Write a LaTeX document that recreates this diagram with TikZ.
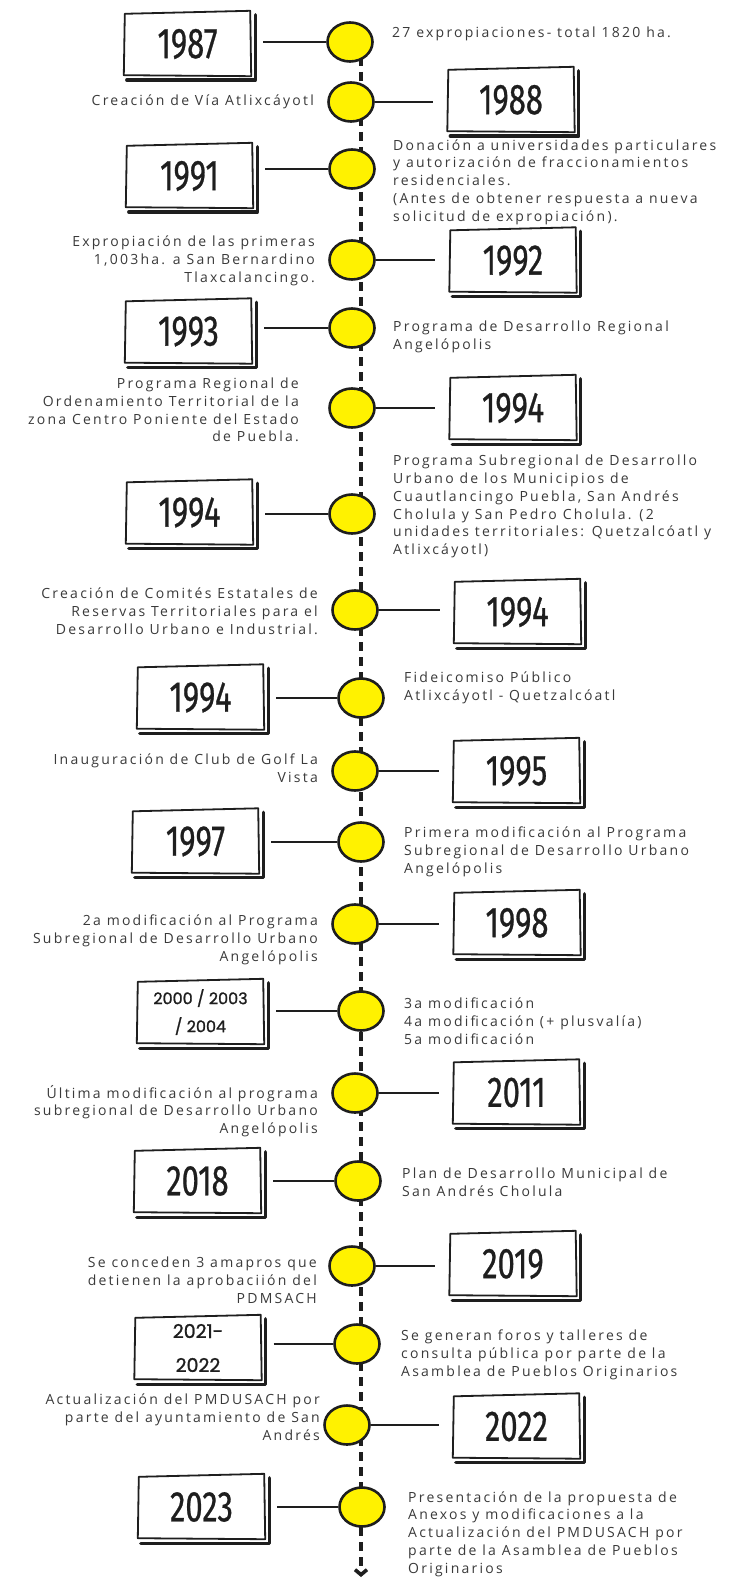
\documentclass[tikz,border=0pt]{standalone}
\usepackage{fontspec}
\setmainfont{Open Sans}[LetterSpace=16]
\newfontfamily\yearfont{Fira Sans}[FakeStretch=0.72,FakeBold=0.6]
\newfontfamily\smallyearfont{Poppins}[FakeBold=1.2]
\usetikzlibrary{shapes.geometric,arrows.meta}
\definecolor{ink}{HTML}{1E1E1E}
\definecolor{txt}{HTML}{3A3A3A}
\definecolor{dotyellow}{HTML}{FFF200}
\tikzset{
  dotnode/.style={ellipse, draw=ink, line width=2.6pt, fill=dotyellow, minimum width=45pt, minimum height=39pt, inner sep=0pt},
  conn/.style={draw=ink, line width=2.6pt},
  connL/.style={conn, shorten <=12pt},
  connR/.style={conn, shorten >=14pt},
  yearbox/.style={inner sep=0pt, minimum width=127pt, minimum height=64pt, text=ink, font=\yearfont\fontsize{43}{43}\selectfont},
  smallbox/.style={yearbox, align=center},
  rtext/.style={anchor=west, align=left, inner sep=0pt, text=txt, font=\fontsize{14}{17.8}\selectfont},
  ltext/.style={anchor=east, align=right, inner sep=0pt, text=txt, font=\fontsize{14}{17.8}\selectfont},
  dashline/.style={draw=ink, line width=3.6pt, dash pattern=on 9pt off 6pt},
  boxline/.style={draw=ink, line width=1.8pt, line join=round},
  shadowline/.style={draw=ink, line width=3.4pt, line cap=round, line join=round}
}
\newcommand\handbox[1]{%
  \draw[boxline] ([shift={(1,2)}]#1.north west) -- ([shift={(-1,-1)}]#1.north east) -- (#1.south east) -- ([shift={(0,-1)}]#1.south west) -- cycle;
  \draw[shadowline] ([shift={(4,3)}]#1.north east) -- ([shift={(4,4)}]#1.south east) -- ([shift={(3,4)}]#1.south west);
}
\begin{document}
\begin{tikzpicture}[x=1pt,y=-1pt]
\fill[white] (0,0) rectangle (729,1578);
\useasboundingbox (0,0) rectangle (729,1578);

% timeline
\coordinate (tltop) at (361,42);
\coordinate (tlend) at (361,1577);
\draw[dashline, -{Straight Barb[length=5pt,width=12pt]}] (tltop) -- (tlend);

% E1 1987
\node[dotnode] (c1) at (350,42) {};
\node[yearbox] (b1) at (187.5,44) {1987};
\handbox{b1}
\draw[connL] (b1.east |- c1.west) -- (c1.west);
\node[rtext] (t1) at (392,34) {27 expropiaciones- total 1820 ha.};

% E2 1988
\node[dotnode] (c2) at (351,102) {};
\node[yearbox] (b2) at (511,100) {1988};
\handbox{b2}
\draw[connR] (c2.east) -- (c2.east -| b2.west);
\node[ltext] (t2) at (314,102) {Creación de Vía Atlixcáyotl};

% E3 1991
\node[dotnode] (c3) at (352,169) {};
\node[yearbox] (b3) at (189.5,176) {1991};
\handbox{b3}
\draw[connL] (b3.east |- c3.west) -- (c3.west);
\node[rtext] (t3) at (393,182) {Donación a universidades particulares\\ y autorización de fraccionamientos\\ residenciales.\\ (Antes de obtener respuesta a nueva\\ solicitud de expropiación).};

% E4 1992
\node[dotnode] (c4) at (352,260) {};
\node[yearbox] (b4) at (513,260.5) {1992};
\handbox{b4}
\draw[connR] (c4.east) -- (c4.east -| b4.west);
\node[ltext] (t4) at (315,261) {Expropiación de las primeras\\ 1,003ha. a San Bernardino\\ Tlaxcalancingo.};

% E5 1993
\node[dotnode] (c5) at (352,328) {};
\node[yearbox] (b5) at (188.5,331.5) {1993};
\handbox{b5}
\draw[connL] (b5.east |- c5.west) -- (c5.west);
\node[rtext] (t5) at (393,336.5) {Programa de Desarrollo Regional\\ Angelópolis};

% E6 1994
\node[dotnode] (c6) at (352,408) {};
\node[yearbox] (b6) at (513,408) {1994};
\handbox{b6}
\draw[connR] (c6.east) -- (c6.east -| b6.west);
\node[ltext] (t6) at (299,410) {Programa Regional de\\ Ordenamiento Territorial de la\\ zona Centro Poniente del Estado\\ de Puebla.};

% E7 1994
\node[dotnode] (c7) at (352,514) {};
\node[yearbox] (b7) at (189.5,512.5) {1994};
\handbox{b7}
\draw[connL] (b7.east |- c7.west) -- (c7.west);
\node[rtext] (t7) at (393,506.5) {Programa Subregional de Desarrollo\\ Urbano de los Municipios de\\ Cuautlancingo Puebla, San Andrés\\ Cholula y San Pedro Cholula. (2\\ unidades territoriales: Quetzalcóatl y\\ Atlixcáyotl)};

% E8 1994
\node[dotnode] (c8) at (355,610) {};
\node[yearbox] (b8) at (517.5,612) {1994};
\handbox{b8}
\draw[connR] (c8.east) -- (c8.east -| b8.west);
\node[ltext] (t8) at (318,611) {Creación de Comités Estatales de\\ Reservas Territoriales para el\\ Desarrollo Urbano e Industrial.};

% E9 1994
\node[dotnode] (c9) at (361,698) {};
\node[yearbox] (b9) at (200.5,697.5) {1994};
\handbox{b9}
\draw[connL] (b9.east |- c9.west) -- (c9.west);
\node[rtext] (t9) at (404,688) {Fideicomiso Público\\ Atlixcáyotl - Quetzalcóatl};

% E10 1995
\node[dotnode] (c10) at (355,771) {};
\node[yearbox] (b10) at (516.5,771) {1995};
\handbox{b10}
\draw[connR] (c10.east) -- (c10.east -| b10.west);
\node[ltext] (t10) at (318,768.5) {Inauguración de Club de Golf La\\ Vista};

% E11 1997
\node[dotnode] (c11) at (361,842) {};
\node[yearbox] (b11) at (195.5,841.5) {1997};
\handbox{b11}
\draw[connL] (b11.east |- c11.west) -- (c11.west);
\node[rtext] (t11) at (404,852) {Primera modificación al Programa\\ Subregional de Desarrollo Urbano\\ Angelópolis};

% E12 1998
\node[dotnode] (c12) at (355,924) {};
\node[yearbox] (b12) at (517,923) {1998};
\handbox{b12}
\draw[connR] (c12.east) -- (c12.east -| b12.west);
\node[ltext] (t12) at (318,940) {2a modificación al Programa\\ Subregional de Desarrollo Urbano\\ Angelópolis};

% E13 2000/2003/2004
\node[dotnode] (c13) at (361,1011) {};
\node[smallbox, font=\smallyearfont\fontsize{16}{28}\selectfont] (b13) at (200.5,1012) {2000 / 2003\\ / 2004};
\handbox{b13}
\draw[connL] (b13.east |- c13.west) -- (c13.west);
\node[rtext] (t13) at (404,1021) {3a modificación\\ 4a modificación (+ plusvalía)\\ 5a modificación};

% E14 2011
\node[dotnode] (c14) at (355,1093) {};
\node[yearbox] (b14) at (516.5,1092.5) {2011};
\handbox{b14}
\draw[connR] (c14.east) -- (c14.east -| b14.west);
\node[ltext] (t14) at (318,1111) {Última modificación al programa\\ subregional de Desarrollo Urbano\\ Angelópolis};

% E15 2018
\node[dotnode] (c15) at (358,1181) {};
\node[yearbox] (b15) at (197.5,1181) {2018};
\handbox{b15}
\draw[connL] (b15.east |- c15.west) -- (c15.west);
\node[rtext] (t15) at (402,1182.5) {Plan de Desarrollo Municipal de\\ San Andrés Cholula};

% E16 2019
\node[dotnode] (c16) at (352,1266) {};
\node[yearbox] (b16) at (513,1264) {2019};
\handbox{b16}
\draw[connR] (c16.east) -- (c16.east -| b16.west);
\node[ltext] (t16) at (317,1280) {Se conceden 3 amapros que\\ detienen la aprobaciión del\\ PDMSACH};

% E17 2021-2022
\node[dotnode] (c17) at (357,1344) {};
\node[smallbox, font=\smallyearfont\fontsize{19}{34}\selectfont] (b17) at (198,1348) {2021-\\ 2022};
\handbox{b17}
\draw[connL] (b17.east |- c17.west) -- (c17.west);
\node[rtext] (t17) at (401,1355) {Se generan foros y talleres de\\ consulta pública por parte de la\\ Asamblea de Pueblos Originarios};

% E18 2022
\node[dotnode] (c18) at (347,1425) {};
\node[yearbox] (b18) at (516.5,1426.5) {2022};
\handbox{b18}
\draw[connR] (c18.east) -- (c18.east -| b18.west);
\node[ltext] (t18) at (320,1417) {Actualización del PMDUSACH por\\ parte del ayuntamiento de San\\ Andrés};

% E19 2023
\node[dotnode] (c19) at (362,1507) {};
\node[yearbox] (b19) at (201.5,1507) {2023};
\handbox{b19}
\draw[connL] (b19.east |- c19.west) -- (c19.west);
\node[rtext] (t19) at (408,1534) {Presentación de la propuesta de\\ Anexos y modificaciones a la\\ Actualización del PMDUSACH por\\ parte de la Asamblea de Pueblos\\ Originarios};
\end{tikzpicture}
\end{document}
